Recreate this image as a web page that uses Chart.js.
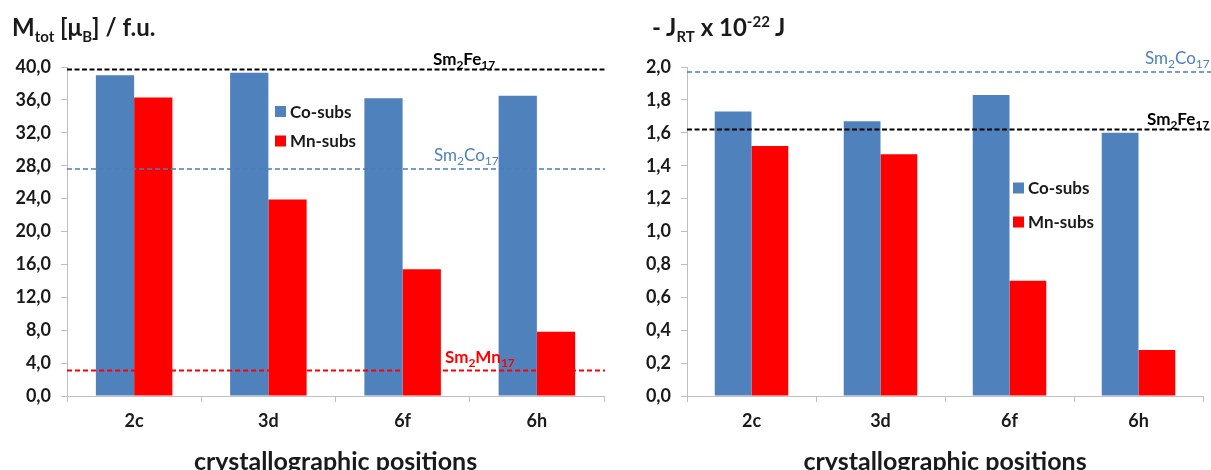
<!DOCTYPE html>
<html>
<head>
<meta charset="utf-8">
<script src="https://cdn.jsdelivr.net/npm/chart.js@4.4.1/dist/chart.umd.min.js"></script>
<style>
  body { margin: 0; background: #fff; width: 1211px; height: 470px; overflow: hidden; position: relative; font-family: Lato, sans-serif; }
  .panel { position: absolute; top: 0; height: 470px; overflow: hidden; }
  .ttl { position: absolute; top: 12px; font-weight: bold; font-size: 24px; color: #1a1a1a; white-space: nowrap; }
  .ttl sub, .ttl sup { font-size: 15px; }
</style>
</head>
<body>
<div class="panel" style="left:0;width:605px"><canvas id="left" width="605" height="480"></canvas></div>
<div class="panel" style="left:612px;width:599px"><canvas id="right" width="599" height="480"></canvas></div>
<div class="ttl" style="left:12px">M<sub>tot</sub> [μ<sub>B</sub>] / f.u.</div>
<div class="ttl" style="left:652px">- J<sub>RT</sub> x 10<sup>-22</sup> J</div>
<script>
// data
const categories = ['2c', '3d', '6f', '6h'];
const seriesNames = ['Co-subs', 'Mn-subs'];
const momentCo = [39.0, 39.3, 36.2, 36.5];
const momentMn = [36.3, 23.9, 15.4, 7.8];
const exchangeCo = [1.73, 1.67, 1.83, 1.60];
const exchangeMn = [1.52, 1.47, 0.70, 0.28];

// reference compounds: name split as [text, sub, text, sub]
const momentRefNames = [['Sm', '2', 'Fe', '17'], ['Sm', '2', 'Co', '17'], ['Sm', '2', 'Mn', '17']];
const momentRefValues = [39.7, 27.6, 3.1];
const exchangeRefNames = [['Sm', '2', 'Co', '17'], ['Sm', '2', 'Fe', '17']];
const exchangeRefValues = [1.97, 1.62];

const momentTicks = [0, 40, 4];      // min, max, step
const exchangeTicks = [0, 2, 0.2];
const xTitle = 'crystallographic positions';

const FONT = 'Lato, sans-serif';
const INK = '#1a1a1a';
const BLUE = '#4f81bd';
const RED = '#ff0000';
const AXIS = '#bfbfbf';

function drawFormula(ctx, parts, x, y, color, bold) {
  ctx.save();
  ctx.fillStyle = color;
  ctx.textAlign = 'left';
  ctx.textBaseline = 'alphabetic';
  const w = bold ? 'bold ' : '';
  parts.forEach((p, i) => {
    const sub = i % 2 === 1;
    ctx.font = w + (sub ? '12px ' : '17px ') + FONT;
    ctx.fillText(p, x, sub ? y + 4 : y);
    x += ctx.measureText(p).width;
  });
  ctx.restore();
}

const extras = {
  id: 'extras',
  afterDatasetsDraw(chart, args, opts) {
    const ctx = chart.ctx;
    const y = chart.scales.y;
    const area = chart.chartArea;
    opts.refValues.forEach((v, i) => {
      const st = opts.refStyle[i];
      const py = y.getPixelForValue(v);
      ctx.save();
      ctx.strokeStyle = st.line;
      ctx.lineWidth = st.width;
      ctx.setLineDash(st.dash);
      ctx.beginPath();
      ctx.moveTo(area.left, py);
      ctx.lineTo(chart.width, py);
      ctx.stroke();
      ctx.restore();
      drawFormula(ctx, opts.refNames[i], st.x, py + st.dy, st.text, st.bold);
    });
    // legend inside the plot
    const lg = opts.legend;
    seriesNames.forEach((name, i) => {
      const cy = lg.y[i];
      ctx.save();
      ctx.fillStyle = chart.data.datasets[i].backgroundColor;
      ctx.fillRect(lg.x, cy - 5.5, 11, 11);
      ctx.fillStyle = INK;
      ctx.font = 'bold 17px ' + FONT;
      ctx.textBaseline = 'middle';
      ctx.fillText(name, lg.x + 15, cy + 1);
      ctx.restore();
    });
  }
};

function makeChart(id, co, mn, ticks, refNames, refValues, refStyle, legend, yWidth, padRight) {
  return new Chart(document.getElementById(id), {
    type: 'bar',
    data: {
      labels: categories,
      datasets: [
        { label: seriesNames[0], data: co, backgroundColor: BLUE, categoryPercentage: 0.57, barPercentage: 1 },
        { label: seriesNames[1], data: mn, backgroundColor: RED, categoryPercentage: 0.57, barPercentage: 1 }
      ]
    },
    options: {
      responsive: false,
      animation: false,
      layout: { padding: { top: 67, right: padRight, left: 0, bottom: 0 } },
      plugins: {
        legend: { display: false },
        tooltip: { enabled: false },
        extras: { refNames, refValues, refStyle, legend }
      },
      scales: {
        x: {
          grid: { display: true, drawOnChartArea: false, drawTicks: true, tickLength: 6, color: AXIS, offset: true },
          border: { display: true, color: AXIS },
          ticks: { color: INK, font: { family: FONT, size: 18, weight: 'bold' }, padding: 8 },
          title: { display: true, text: xTitle, color: INK, font: { family: FONT, size: 25, weight: 'bold' }, padding: { top: 0, bottom: 3 } },
          afterFit: s => { s.height = 84; }
        },
        y: {
          min: ticks[0], max: ticks[1],
          grid: { display: true, drawOnChartArea: false, drawTicks: true, tickLength: 6, color: AXIS },
          border: { display: true, color: AXIS },
          ticks: {
            stepSize: ticks[2], color: INK, padding: 10,
            font: { family: FONT, size: 18, weight: 'bold' },
            callback: v => v.toFixed(1).replace('.', ',')
          },
          afterFit: s => { s.width = yWidth; }
        }
      }
    },
    plugins: [extras]
  });
}

const blueRef = { line: '#4a7ebb', text: '#4f81bd', width: 1.6, dash: [5, 3], bold: false };
const blackRef = { line: '#000000', text: '#000000', width: 2, dash: [5, 2.5], bold: true };
const redRef = { line: '#ff0000', text: '#ff0000', width: 2, dash: [5, 3], bold: true };

makeChart('left', momentCo, momentMn, momentTicks, momentRefNames, momentRefValues,
  [ Object.assign({}, blackRef, { x: 433, dy: -4 }),
    Object.assign({}, blueRef, { x: 434, dy: -8 }),
    Object.assign({}, redRef, { x: 445, dy: -8 }) ],
  { x: 275, y: [111.5, 141] }, 67, 1);

makeChart('right', exchangeCo, exchangeMn, exchangeTicks, exchangeRefNames, exchangeRefValues,
  [ Object.assign({}, blueRef, { x: 533, dy: -8 }),
    Object.assign({}, blackRef, { x: 535, dy: -5 }) ],
  { x: 401, y: [188, 222] }, 75, 8);
</script>
</body>
</html>
